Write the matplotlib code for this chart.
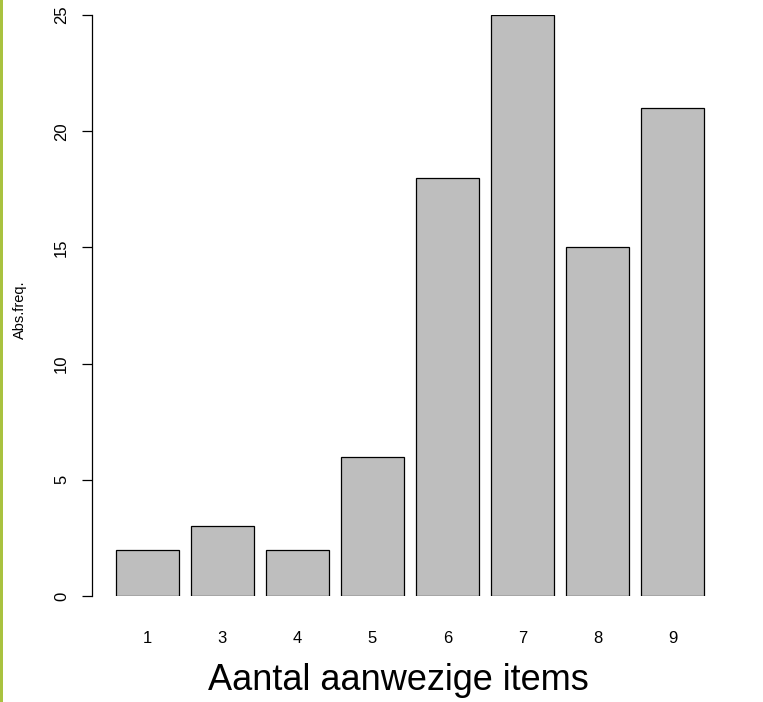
import matplotlib
matplotlib.use('Agg')
import matplotlib.pyplot as plt
from matplotlib.patches import Rectangle
import numpy as np

# aantal aanwezige items vs absolute frequentie
categories = ['1', '3', '4', '5', '6', '7', '8', '9']
counts = [2, 3, 2, 6, 18, 25, 15, 21]

plt.rcParams['font.family'] = ['Liberation Sans', 'DejaVu Sans']

W, H = 763, 702
fig = plt.figure(figsize=(W / 100, H / 100), dpi=100)

# axes box in pixels (R style barplot: width 1, space 0.2)
left_px, right_px, top_px, bot_px = 92, 740, 15, 596
ax = fig.add_axes([left_px / W, 1 - bot_px / H,
                   (right_px - left_px) / W, (bot_px - top_px) / H])

pos = 0.7 + 1.2 * np.arange(len(counts))
ax.bar(pos, counts, width=1.0, color='#bebebe', edgecolor='black', linewidth=0.9)

ppu = 588 / 9.4
ax.set_xlim(0.2 - (116 - left_px) / ppu, 9.6 + (right_px - 704) / ppu)
ax.set_ylim(0, 25)

for s in ['top', 'right', 'bottom']:
    ax.spines[s].set_visible(False)
ax.spines['left'].set_linewidth(0.9)

ax.set_yticks([0, 5, 10, 15, 20, 25])
ax.set_yticklabels(['0', '5', '10', '15', '20', '25'], rotation=90, va='center', fontsize=12)
ax.tick_params(axis='y', length=7.5, width=0.9, pad=9)

ax.set_xticks(pos)
ax.set_xticklabels(categories, fontsize=12)
ax.tick_params(axis='x', length=0, pad=25)

fig.text(20 / W, 1 - 310 / H, 'Abs.freq.', rotation=90, ha='center', va='center', fontsize=10.5)

# labels are cut off at the bottom in the original
fig.patches.append(Rectangle((0, 0), 1, 1 - 643 / H, transform=fig.transFigure,
                             facecolor='white', edgecolor='none', zorder=5))
t = fig.text(398 / W, 1 - 681 / H, 'Aantal aanwezige items', ha='center', va='center',
             fontsize=26, family=['Liberation Sans Narrow', 'Liberation Sans'], zorder=6)

# green line on the left edge
fig.patches.append(Rectangle((0, 0), 3 / W, 1, transform=fig.transFigure,
                             facecolor='#a9c23f', edgecolor='none', zorder=6))

fig.savefig('out.png', dpi=100)
